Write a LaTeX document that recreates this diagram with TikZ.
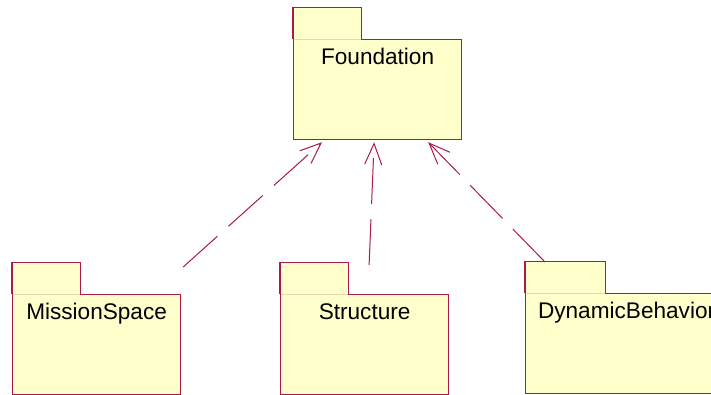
\documentclass[tikz,border=0pt]{standalone}
\usepackage{fontspec}
\setmainfont{Liberation Sans}
\usetikzlibrary{arrows.meta}
\definecolor{pkgborder}{RGB}{170,25,75}
\definecolor{pkgfill}{RGB}{255,255,204}
\definecolor{tabseam}{RGB}{235,215,175}
\tikzstyle{package} = [rectangle, draw=pkgborder, fill=pkgfill, line width=1.2pt,
    inner xsep=0pt, inner ysep=0pt, minimum width=168pt, text height=25pt,
    text depth=75pt, text centered, anchor=north west,
font=\fontsize{22.6}{27}\selectfont]
\tikzstyle{pkgtab} = [rectangle, fill=pkgfill, inner sep=0pt, minimum width=68pt,
    minimum height=31pt, anchor=south west]
\tikzstyle{tabedge} = [draw=pkgborder, line width=1.2pt]
\tikzstyle{seam} = [draw=tabseam, line width=1pt]
\tikzstyle{depend} = [draw=pkgborder, line width=1pt, dash pattern=on 46pt off 15pt,
    -{Straight Barb[length=21pt, width=17pt]}]

\begin{document}
\begin{tikzpicture}[x=1pt, y=-1pt]
            \clip (0,0) rectangle (711,394);
            % Packages
            \node[package] (fd) at (293,39) {Foundation};
            \node[package] (ms) at (12,294) {MissionSpace};
            \node[package] (st) at (280,294) {Structure};
            \node[package, minimum width=202pt] (db) at (525,293) {DynamicBehavior};
            % Tabs
            \node[pkgtab] (fd-tab) at (fd.north west) {};
            \node[pkgtab] (ms-tab) at (ms.north west) {};
            \node[pkgtab] (st-tab) at (st.north west) {};
            \node[pkgtab, minimum width=80pt] (db-tab) at (db.north west) {};
            \foreach \t in {fd-tab, ms-tab, st-tab, db-tab} {
                \draw[seam] ([xshift=0.6pt]\t.south west) -- ([xshift=-0.6pt]\t.south east);
                \draw[tabedge] (\t.south west) |- (\t.north east) -- (\t.south east);
            }
            % Arrow ends
            \coordinate (fd-in1) at ([shift={(29,2)}]fd.south west);
            \coordinate (fd-in2) at ([shift={(-3.5,2)}]fd.south);
            \coordinate (fd-in3) at ([shift={(-34,2)}]fd.south east);
            \coordinate (ms-out) at ([shift={(2,-27)}]ms.north east);
            \coordinate (st-out) at ([shift={(4.5,-29)}]st.north);
            \coordinate (db-out) at ([shift={(20,-31)}]db.north west);
            % Arrows
            \draw[depend] (ms-out) -- (fd-in1);
            \draw[depend] (st-out) -- (fd-in2);
            \draw[depend] (db-out) -- (fd-in3);

        \end{tikzpicture}
\end{document}
